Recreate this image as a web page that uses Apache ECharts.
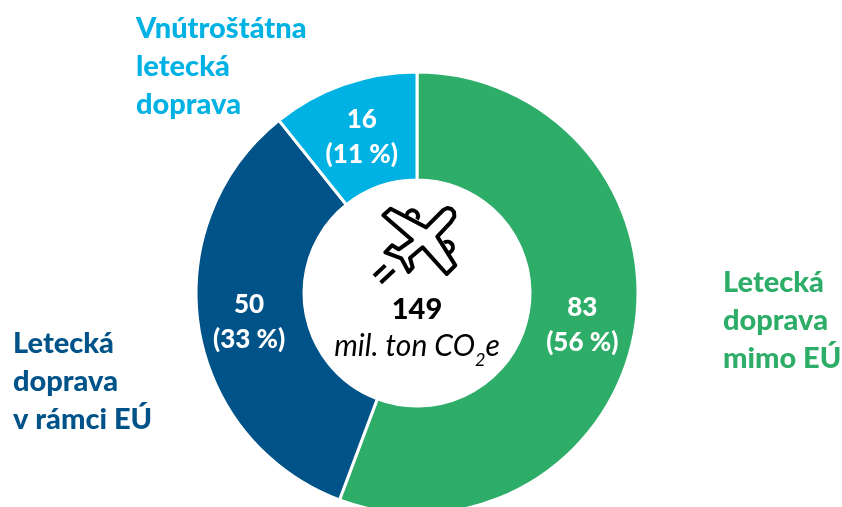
<!DOCTYPE html>
<html>
<head>
<meta charset="utf-8">
<style>html,body{margin:0;padding:0;background:#fff;overflow:hidden}#c{width:842px;height:507px}</style>
<script src="https://cdn.jsdelivr.net/npm/echarts@6/dist/echarts.min.js"></script>
</head>
<body>
<div id="c"></div>
<script>
const categories = ['Letecká\ndoprava\nmimo EÚ', 'Letecká\ndoprava\nv rámci EÚ', 'Vnútroštátna\nletecká\ndoprava'];
const values = [83, 50, 16];
const shares = ['56 %', '33 %', '11 %'];
const colors = ['#2EAD69', '#005388', '#00B2E3'];
const total = 149;
const unit = 'mil. ton CO';
const FONT = 'Lato, "Open Sans", sans-serif';

const chart = echarts.init(document.getElementById('c'), null, {renderer: 'canvas'});
const nameLabel = (i, x, y) => ({
  type: 'text', x: x, y: y, silent: true,
  style: {text: categories[i], fill: colors[i], font: '900 29px ' + FONT, lineHeight: 38}
});
const labelNudge = [[-2, 2], [0, 2], [1, 5]];
const planeOutline = [[340,60],[352,54],[364,57],[372,66],[373,80],[362,97],[322,140],[376,226],[350,252],[278,172],[240,204],[248,232],[236,246],[214,205],[166,187],[186,166],[206,178],[246,150],[160,76],[182,56],[288,112]];
const stroke = {stroke: '#000', lineWidth: 12, fill: 'none'};
chart.setOption({
  animation: false,
  backgroundColor: '#fff',
  series: [{
    type: 'pie',
    center: [417, 293],
    radius: [113, 221],
    startAngle: 90,
    clockwise: true,
    silent: true,
    itemStyle: {borderColor: '#fff', borderWidth: 3},
    label: {
      show: true, position: 'inside', color: '#fff',
      fontFamily: FONT, fontWeight: 900, fontSize: 26, lineHeight: 35,
      formatter: p => p.value + '\n(' + shares[p.dataIndex] + ')'
    },
    labelLine: {show: false},
    data: values.map((v, i) => ({
      value: v, name: categories[i],
      itemStyle: {color: colors[i]},
      label: {offset: labelNudge[i]}
    }))
  }],
  graphic: [
    nameLabel(2, 136, 10),
    nameLabel(0, 723, 264),
    nameLabel(1, 13, 325),
    {
      type: 'group', x: 330, y: 190, scaleX: 1 / 3, scaleY: 1 / 3, silent: true,
      children: [
        {type: 'arc', shape: {cx: 247, cy: 78, r: 17, startAngle: Math.PI * 0.85, endAngle: Math.PI * 2.2}, style: stroke},
        {type: 'arc', shape: {cx: 352, cy: 172, r: 17, startAngle: Math.PI * 1.3, endAngle: Math.PI * 2.6}, style: stroke},
        {type: 'polygon', shape: {points: planeOutline}, style: {fill: '#fff', stroke: '#000', lineWidth: 12, lineJoin: 'round'}},
        {type: 'line', shape: {x1: 132, y1: 258, x2: 166, y2: 226}, style: stroke},
        {type: 'line', shape: {x1: 152, y1: 278, x2: 193, y2: 240}, style: stroke}
      ]
    },
    {
      type: 'text', x: 417, y: 310, silent: true,
      style: {text: String(total), fill: '#000', font: '900 29px ' + FONT, align: 'center', verticalAlign: 'middle'}
    },
    {
      type: 'text', x: 417, y: 350, silent: true,
      style: {
        text: '{a|' + unit + '}{s|2}{a|e}',
        align: 'center', verticalAlign: 'middle',
        rich: {
          a: {fill: '#000', font: 'italic 30px ' + FONT, verticalAlign: 'top', lineHeight: 32},
          s: {fill: '#000', font: 'italic 18px ' + FONT, verticalAlign: 'bottom', lineHeight: 38}
        }
      }
    }
  ]
});
</script>
</body>
</html>
